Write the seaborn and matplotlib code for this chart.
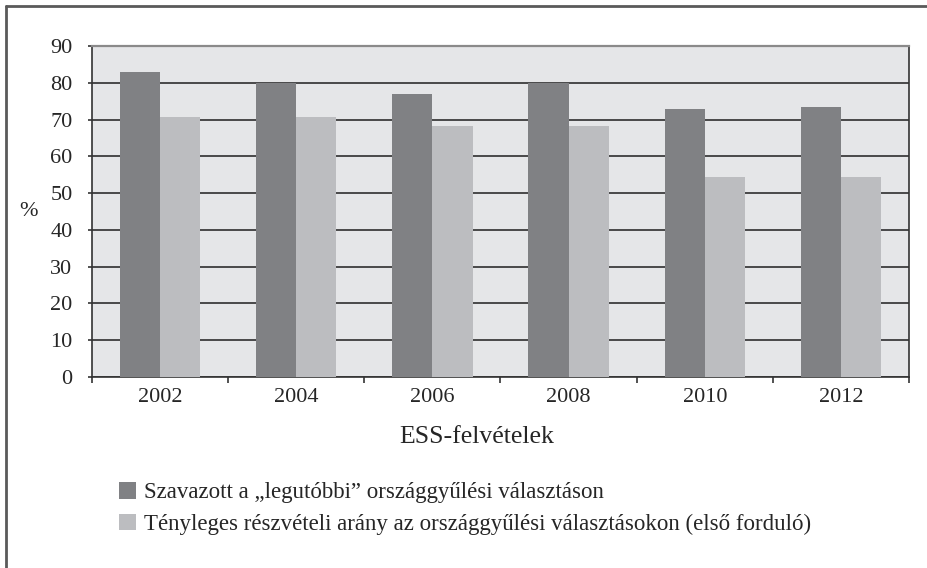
import pandas as pd
import seaborn as sns
import matplotlib.pyplot as plt
from matplotlib.lines import Line2D
from matplotlib.patches import Patch
from matplotlib.ticker import FixedLocator

years = ['2002', '2004', '2006', '2008', '2010', '2012']
voted = [82.8, 80.0, 77.0, 80.0, 73.0, 73.5]
turnout = [70.6, 70.6, 68.2, 68.2, 54.5, 54.5]
series = ['Szavazott a \u201elegutóbbi\u201d országgyűlési választáson',
          'Tényleges részvételi arány az országgyűlési választásokon (első forduló)']
colors = ['#808184', '#bcbdc0']

df = pd.DataFrame({'year': years * 2,
                   'value': voted + turnout,
                   'series': [series[0]] * 6 + [series[1]] * 6})

sns.set_style('white')
plt.rcParams['font.family'] = ['Liberation Serif', 'DejaVu Serif']

fig = plt.figure(figsize=(9.27, 5.68), dpi=100)
ax = fig.add_axes([92 / 927, 1 - 377 / 568, 817 / 927, 331 / 568])
ax.set_facecolor('#e5e6e8')

sns.barplot(data=df, x='year', y='value', hue='series', palette=colors,
            width=0.59, saturation=1, linewidth=0, ax=ax, zorder=3)
ax.legend_.remove()

ax.set_ylim(0, 90)
ax.set_xlim(-0.5, 5.5)
ax.set_yticks(range(0, 91, 10))
ax.yaxis.grid(True, color='#2e2e2e', linewidth=1.2, zorder=1)
ax.set_axisbelow(True)

ax.tick_params(axis='y', length=3, width=1.2, color='#333333',
               labelsize=16, pad=11, left=True)
ax.tick_params(axis='x', which='major', length=0, labelsize=16, pad=8)
ax.xaxis.set_minor_locator(FixedLocator([i - 0.5 for i in range(7)]))
ax.tick_params(axis='x', which='minor', length=4, width=1.2,
               color='#333333', bottom=True)

for side in ['left', 'bottom', 'right']:
    ax.spines[side].set_color('#333333')
    ax.spines[side].set_linewidth(1.2)
ax.spines['top'].set_color('#8a8a8a')
ax.spines['top'].set_linewidth(1.6)

ax.set_ylabel('%', rotation=0, fontsize=16)
ax.yaxis.set_label_coords(-0.078, 0.5)
ax.yaxis.label.set_va('center')
ax.set_xlabel('ESS-felvételek', fontsize=18.5)
ax.xaxis.set_label_coords((477 - 92) / 817, -0.181)
ax.xaxis.label.set_va('center')

handles = [Patch(facecolor=c, edgecolor='none') for c in colors]
fig.legend(handles, series, loc='upper left',
           bbox_to_anchor=(119 / 927, 1 - 482 / 568), frameon=False,
           fontsize=16.5, handlelength=0.75, handleheight=0.75,
           handletextpad=0.35, labelspacing=0.45,
           borderpad=0, borderaxespad=0)

# outer frame: only top and left edges are visible
fig.add_artist(Line2D([6 / 927, 1], [1 - 6 / 568] * 2, color='#5a5a5a',
                      linewidth=2, transform=fig.transFigure))
fig.add_artist(Line2D([6 / 927] * 2, [0, 1 - 6 / 568], color='#5a5a5a',
                      linewidth=2, transform=fig.transFigure))

fig.savefig('out.png', dpi=100)
